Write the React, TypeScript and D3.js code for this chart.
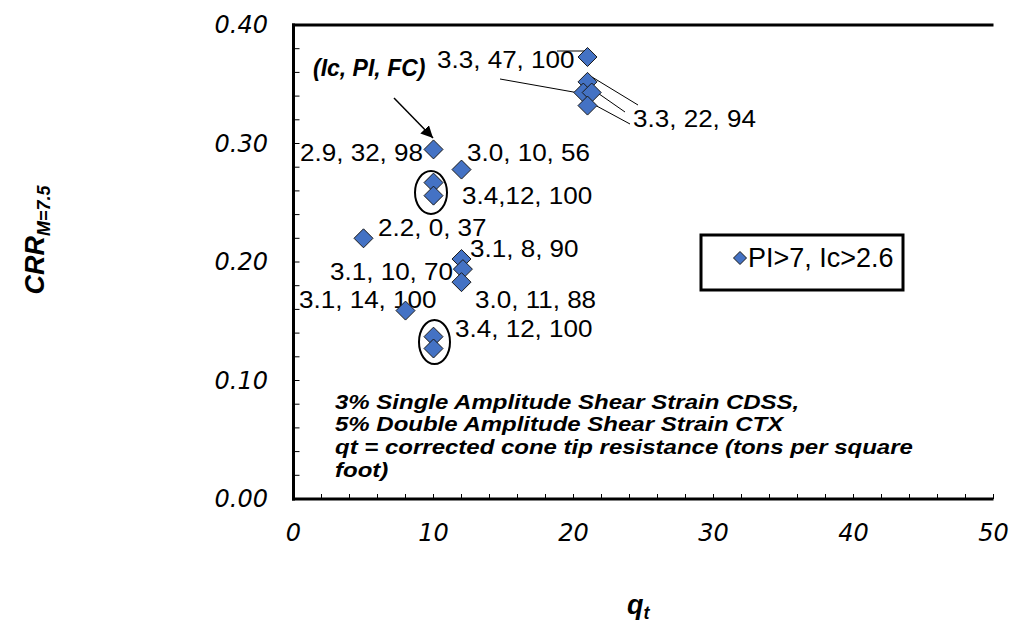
import React from "react";
import * as d3 from "d3";

// ---- data ----
const qtValues = [21, 21, 20.7, 21.3, 21, 10, 12, 10, 10, 5, 12, 12.1, 12, 8, 10, 10];
const crrValues = [0.373, 0.352, 0.343, 0.343, 0.332, 0.295, 0.278, 0.267, 0.256, 0.22, 0.2025, 0.194, 0.183, 0.159, 0.137, 0.127];
const xTicks = [0, 10, 20, 30, 40, 50];
const yTicks = [0, 0.1, 0.2, 0.3, 0.4];
const pointLabels = [
  "3.3, 47, 100",
  "3.3, 22, 94",
  "2.9, 32, 98",
  "3.0, 10, 56",
  "3.4,12, 100",
  "2.2, 0, 37",
  "3.1, 8, 90",
  "3.1, 10, 70",
  "3.1, 14, 100",
  "3.0, 11, 88",
  "3.4, 12, 100",
];
const noteLines = [
  "3% Single Amplitude Shear Strain CDSS,",
  "5% Double Amplitude Shear Strain CTX",
  "qt = corrected cone tip resistance (tons per square",
  "foot)",
];
const legendText = "PI>7, Ic>2.6";

// ---- layout (pixels) ----
const labelPos = [
  [437, 59], [633, 118], [300, 152], [467, 152], [462, 195], [378, 227],
  [470, 248], [330, 271], [299, 299], [475, 299], [455, 328],
];
const noteY = [402, 424, 447, 470];

const W = 1013, H = 625;
const x = d3.scaleLinear().domain([0, 50]).range([293.5, 993.5]);
const y = d3.scaleLinear().domain([0, 0.4]).range([499, 25]);

function diamondPath(r: number) {
  return `M0,${-r}L${r},0L0,${r}L${-r},0Z`;
}

export default function App() {
  const minorX = d3.range(0, 50.001, 2);
  const minorY = d3.range(0, 0.4001, 0.02);
  const fill = "#4472C4";
  const font = "'Liberation Sans', Arial, sans-serif";
  return (
    <svg width={W} height={H} style={{ position: "absolute", left: 0, top: 0, background: "#fff" }}>
      <defs>
        <marker id="ah2" viewBox="0 0 10 10" refX="10" refY="5" markerWidth="12" markerHeight="12" orient="auto" markerUnits="userSpaceOnUse">
          <path d="M0,0L10,5L0,10Z" fill="#000" />
        </marker>
      </defs>
      {/* ticks */}
      {minorX.map((v, i) => (
        <line key={"tx" + i} x1={x(v)} x2={x(v)} y1={y(0)} y2={y(0) - 5} stroke="#000" strokeWidth={1} />
      ))}
      {minorY.map((v, i) => (
        <line key={"ty" + i} x1={x(0)} x2={x(0) + 6} y1={y(v)} y2={y(v)} stroke="#000" strokeWidth={1} />
      ))}
      {/* axes */}
      <line x1={x(0)} x2={x(0)} y1={y(0.4) - 1.5} y2={y(0) + 1.5} stroke="#000" strokeWidth={3} />
      <line x1={x(0) - 1.5} x2={x(50)} y1={y(0)} y2={y(0)} stroke="#000" strokeWidth={3} />
      <line x1={x(0) - 1.5} x2={x(50)} y1={y(0.4)} y2={y(0.4)} stroke="#000" strokeWidth={3} />
      {/* tick labels */}
      {yTicks.map((v) => (
        <text key={"yl" + v} x={268} y={y(v)} dominantBaseline="central" textAnchor="end"
          fontFamily="'DejaVu Sans', sans-serif" fontStyle="italic" fontSize={24}>{v.toFixed(2)}</text>
      ))}
      {xTicks.map((v) => (
        <text key={"xl" + v} x={x(v)} y={533} dominantBaseline="central" textAnchor="middle"
          fontFamily="'DejaVu Sans', sans-serif" fontStyle="italic" fontSize={24}>{v}</text>
      ))}
      {/* axis titles */}
      <text transform="translate(44,240) rotate(-90)" textAnchor="middle" fontFamily={font} fontWeight="bold" fontStyle="italic" fontSize={27}>
        CRR<tspan fontSize={18} dy={6}>M=7.5</tspan>
      </text>
      <text x={627} y={614} fontFamily={font} fontWeight="bold" fontStyle="italic" fontSize={27}>
        q<tspan fontSize={18} dy={5}>t</tspan>
      </text>
      {/* leader lines */}
      <line x1={557} y1={51} x2={585} y2={51} stroke="#000" strokeWidth={1} />
      <line x1={500} y1={79} x2={579} y2={93} stroke="#000" strokeWidth={1} />
      <line x1={592} y1={77} x2={638} y2={105} stroke="#000" strokeWidth={1} />
      <line x1={592} y1={89} x2={625} y2={112} stroke="#000" strokeWidth={1} />
      <line x1={593} y1={104} x2={630} y2={124} stroke="#000" strokeWidth={1} />
      {/* arrow */}
      <line x1={394} y1={98} x2={433} y2={138} stroke="#000" strokeWidth={1.5} markerEnd="url(#ah2)" />
      {/* ellipses */}
      <ellipse cx={431} cy={192.5} rx={16} ry={21.5} fill="none" stroke="#000" strokeWidth={2} />
      <ellipse cx={434.5} cy={342} rx={15.5} ry={22} fill="none" stroke="#000" strokeWidth={2} />
      {/* point labels */}
      {pointLabels.map((t, i) => (
        <text key={"pl" + i} transform={`translate(${labelPos[i][0]},${labelPos[i][1]}) scale(1.085,1)`} dominantBaseline="central"
          fontFamily={font} fontSize={24}>{t}</text>
      ))}
      <text x={313} y={68} dominantBaseline="central" fontFamily={font} fontWeight="bold" fontStyle="italic" fontSize={23}>(Ic, PI, FC)</text>
      {/* points */}
      {qtValues.map((q, i) => (
        <path key={"pt" + i} d={diamondPath(9.5)} transform={`translate(${x(q)},${y(crrValues[i])})`}
          fill={fill} stroke="#1a1a1a" strokeWidth={1} />
      ))}
      {/* note */}
      {noteLines.map((t, i) => (
        <text key={"n" + i} transform={`translate(335,${noteY[i]}) scale(1.2,1)`} dominantBaseline="central"
          fontFamily={font} fontWeight="bold" fontStyle="italic" fontSize={20}>{t}</text>
      ))}
      {/* legend */}
      <rect x={701} y={235} width={202} height={55} fill="#fff" stroke="#000" strokeWidth={3} />
      <path d={diamondPath(6.5)} transform="translate(740,258)" fill={fill} stroke="#1a1a1a" strokeWidth={1} />
      <text x={748} y={258} dominantBaseline="central" fontFamily={font} fontSize={27}>{legendText}</text>
    </svg>
  );
}
